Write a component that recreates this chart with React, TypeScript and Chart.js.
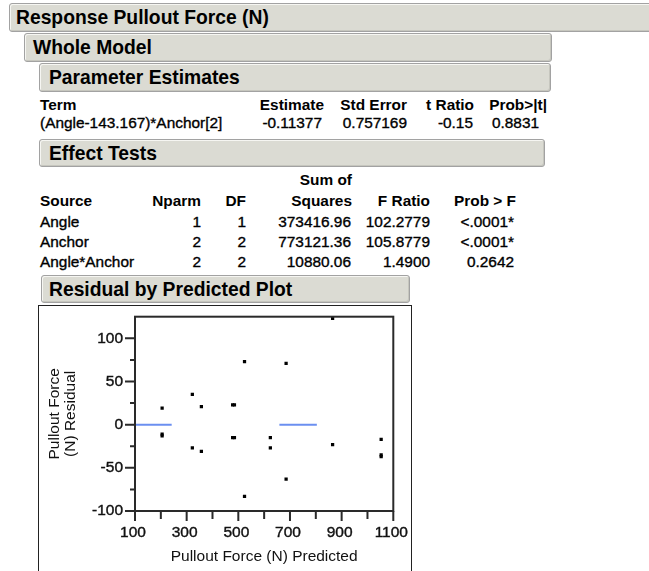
import React, { useEffect, useRef } from 'react';
import { Chart, registerables } from 'chart.js';

Chart.register(...registerables);

const FONT = '"Liberation Sans", Arial, Helvetica, sans-serif';

// ---------- data ----------
const sectionTitles = [
  'Response Pullout Force (N)',
  'Whole Model',
  'Parameter Estimates',
  'Effect Tests',
  'Residual by Predicted Plot',
];

const peColumns = ['Term', 'Estimate', 'Std Error', 't Ratio', 'Prob>|t|'];
const peTerms = ['(Angle-143.167)*Anchor[2]'];
const peEstimate = ['-0.11377'];
const peStdError = ['0.757169'];
const peTRatio = ['-0.15'];
const peProb = ['0.8831'];

const etColumns = ['Source', 'Nparm', 'DF', 'Squares', 'F Ratio', 'Prob > F'];
const etColumnsTop = ['', '', '', 'Sum of', '', ''];
const etSources = ['Angle', 'Anchor', 'Angle*Anchor'];
const etNparm = ['1', '2', '2'];
const etDF = ['1', '2', '2'];
const etSS = ['373416.96', '773121.36', '10880.06'];
const etF = ['102.2779', '105.8779', '1.4900'];
const etProb = ['<.0001*', '<.0001*', '0.2642'];

const predicted = [205, 205, 205, 322, 322, 357, 357, 478, 485, 478, 485, 524, 524, 624, 624, 685, 685, 865, 865, 1053, 1053, 1053];
const residual = [19, -11, -13, 35, -27, 21, -31, 23, 23, -15, -15, 73, -83, -15, -27, 71, -63, 123, -23, -17, -35, -37];

const meanSegA = [100, 242];
const meanSegB = [659, 804];
const meanValue = 0;

const xMin = 100, xMax = 1100, xStep = 100, xLabelStep = 200;
const yMin = -100, yMax = 125, yStep = 25, yLabelStep = 50;
const xTitle = 'Pullout Force (N) Predicted';
const yTitle = ['Pullout Force', '(N) Residual'];

// ---------- helpers ----------
type TxtProps = { x: number; y: number; text: string; align?: 'left' | 'right'; bold?: boolean; size?: number };
function Txt({ x, y, text, align = 'left', bold = false, size = 15.4 }: TxtProps) {
  const style: React.CSSProperties = {
    position: 'absolute',
    top: y - 12,
    height: 24,
    lineHeight: '24px',
    fontFamily: FONT,
    fontSize: size,
    fontWeight: bold ? 'bold' : 'normal',
    whiteSpace: 'pre',
    color: '#000',
    WebkitTextStroke: bold ? '0px' : '0.35px #000',
  };
  if (align === 'left') {
    style.left = x;
  } else {
    style.left = x - 400;
    style.width = 400;
    style.textAlign = 'right';
  }
  return <div style={style}>{text}</div>;
}

type BarProps = { left: number; top: number; width: number; height: number; text: string; pad: number };
function Bar({ left, top, width, height, text, pad }: BarProps) {
  return (
    <div
      style={{
        position: 'absolute',
        left,
        top,
        width,
        height,
        boxSizing: 'border-box',
        background: '#dbdbd3',
        border: '1px solid #a2a2a2',
        borderRadius: 3,
        boxShadow: 'inset 1px 1px 0 #f6f6f2, inset -1px -1px 0 #c6c6be',
        fontFamily: FONT,
        fontWeight: 'bold',
        fontSize: 19.3,
        lineHeight: `${height - 1}px`,
        paddingLeft: pad,
        whiteSpace: 'nowrap',
        color: '#000',
      }}
    >
      {text}
    </div>
  );
}

const framePlugin = {
  id: 'jmpFrame',
  afterDraw(chart: any) {
    const { ctx, chartArea } = chart;
    const xs = chart.scales.x;
    const ys = chart.scales.y;
    ctx.save();
    ctx.strokeStyle = '#2a2a2a';
    ctx.lineWidth = 2;
    ctx.strokeRect(chartArea.left, chartArea.top, chartArea.right - chartArea.left, chartArea.bottom - chartArea.top);
    ctx.beginPath();
    xs.ticks.forEach((t: any) => {
      const px = xs.getPixelForValue(t.value);
      const major = (t.value - xMin) % xLabelStep === 0;
      const len = major ? 10 : 8;
      ctx.moveTo(px, chartArea.bottom);
      ctx.lineTo(px, chartArea.bottom + len);
    });
    ys.ticks.forEach((t: any) => {
      if (t.value >= yMax) return;
      const py = ys.getPixelForValue(t.value);
      const major = t.value % yLabelStep === 0;
      const len = major ? 10 : 5;
      ctx.moveTo(chartArea.left - len, py);
      ctx.lineTo(chartArea.left, py);
    });
    ctx.stroke();
    ctx.restore();
  },
};

function ResidualChart() {
  const ref = useRef<HTMLCanvasElement>(null);
  useEffect(() => {
    const chart = new Chart(ref.current as HTMLCanvasElement, {
      type: 'scatter',
      data: {
        datasets: [
          {
            type: 'scatter',
            data: predicted.map((x, i) => ({ x, y: residual[i] })),
            pointStyle: 'rect',
            pointRadius: 2.3,
            pointBorderWidth: 0,
            pointBackgroundColor: '#000',
            backgroundColor: '#000',
            borderColor: '#000',
            order: 0,
          } as any,
          {
            type: 'line',
            data: meanSegA.map((x) => ({ x, y: meanValue })),
            borderColor: '#6b8ff0',
            borderWidth: 2,
            pointRadius: 0,
            fill: false,
            order: 1,
          } as any,
          {
            type: 'line',
            data: meanSegB.map((x) => ({ x, y: meanValue })),
            borderColor: '#6b8ff0',
            borderWidth: 2,
            pointRadius: 0,
            fill: false,
            order: 1,
          } as any,
        ],
      },
      options: {
        responsive: false,
        animation: false,
        devicePixelRatio: 1,
        layout: { padding: { left: 0, top: 10.7, right: 17.7, bottom: 0 } },
        plugins: { legend: { display: false }, tooltip: { enabled: false } },
        scales: {
          x: {
            type: 'linear',
            min: xMin,
            max: xMax,
            grid: { display: true, drawOnChartArea: false, drawTicks: true, tickLength: 12, tickColor: 'rgba(0,0,0,0)', color: 'rgba(0,0,0,0)' },
            border: { display: false },
            ticks: {
              stepSize: xStep,
              autoSkip: false,
              maxRotation: 0,
              padding: 0,
              labelOffset: -2,
              color: '#111',
              textStrokeColor: '#111',
              textStrokeWidth: 0.4,
              font: { family: FONT, size: 15.5 },
              callback: (v: any) => ((Number(v) - xMin) % xLabelStep === 0 ? String(v) : ''),
            },
            title: {
              display: true,
              text: xTitle,
              color: '#111',
              font: { family: FONT, size: 15.5 },
              padding: { top: 0, bottom: 5 },
            },
            afterFit: (s: any) => {
              s.height = 60;
            },
          } as any,
          y: {
            type: 'linear',
            min: yMin,
            max: yMax,
            grid: { display: true, drawOnChartArea: false, drawTicks: true, tickLength: 12, tickColor: 'rgba(0,0,0,0)', color: 'rgba(0,0,0,0)' },
            border: { display: false },
            ticks: {
              stepSize: yStep,
              autoSkip: false,
              padding: 0,
              color: '#111',
              textStrokeColor: '#111',
              textStrokeWidth: 0.4,
              font: { family: FONT, size: 15.5 },
              callback: (v: any) => (Number(v) % yLabelStep === 0 && Number(v) < yMax ? String(v) : ''),
            },
            title: {
              display: true,
              text: yTitle,
              color: '#111',
              font: { family: FONT, size: 15.5, lineHeight: 0.99 },
              padding: { top: 8.5, bottom: 0 },
            },
            afterFit: (s: any) => {
              s.width = 96;
            },
          } as any,
        },
      },
      plugins: [framePlugin],
    });
    return () => chart.destroy();
  }, []);
  return <canvas ref={ref} width={372} height={265} style={{ display: 'block', width: 372, height: 265 }} />;
}

export default function App() {
  const peRightHead = [324, 407, 474, 547];
  const peRightData = [322, 407, 473, 539];
  const etRightHead = [201, 246, 352, 430, 516];
  const etRightData = [201, 246, 351, 430, 514];
  const etRowY = [222, 242, 262];
  const peCols = [peEstimate, peStdError, peTRatio, peProb];
  const etCols = [etNparm, etDF, etSS, etF, etProb];

  return (
    <div style={{ position: 'absolute', left: 0, top: 0, width: 649, height: 571, overflow: 'hidden', background: '#fff' }}>
      <Bar left={9} top={3} width={700} height={29} text={sectionTitles[0]} pad={6} />
      <Bar left={24} top={33} width={528} height={29} text={sectionTitles[1]} pad={8} />
      <Bar left={39} top={63} width={512} height={29} text={sectionTitles[2]} pad={9} />

      {/* Parameter estimates */}
      <Txt x={40} y={105} text={peColumns[0]} bold />
      {peColumns.slice(1).map((c, i) => (
        <Txt key={'ph' + i} x={peRightHead[i]} y={105} text={c} bold align="right" />
      ))}
      {peTerms.map((t, r) => (
        <React.Fragment key={'pr' + r}>
          <Txt x={40} y={123 + r * 20} text={t} />
          {peCols.map((col, i) => (
            <Txt key={'pc' + i} x={peRightData[i]} y={123 + r * 20} text={col[r]} align="right" />
          ))}
        </React.Fragment>
      ))}

      <Bar left={39} top={139} width={506} height={28} text={sectionTitles[3]} pad={9} />

      {/* Effect tests */}
      <Txt x={etRightHead[2]} y={180} text={etColumnsTop[3]} bold align="right" />
      <Txt x={40} y={201} text={etColumns[0]} bold />
      {etColumns.slice(1).map((c, i) => (
        <Txt key={'eh' + i} x={etRightHead[i]} y={201} text={c} bold align="right" />
      ))}
      {etSources.map((s, r) => (
        <React.Fragment key={'er' + r}>
          <Txt x={40} y={etRowY[r]} text={s} />
          {etCols.map((col, i) => (
            <Txt key={'ec' + i} x={etRightData[i]} y={etRowY[r]} text={col[r]} align="right" />
          ))}
        </React.Fragment>
      ))}

      <Bar left={41} top={275} width={369} height={28} text={sectionTitles[4]} pad={7} />

      {/* plot frame */}
      <div
        style={{
          position: 'absolute',
          left: 38,
          top: 305,
          width: 374,
          height: 300,
          boxSizing: 'border-box',
          border: '1px solid #222',
        }}
      />
      <div style={{ position: 'absolute', left: 39, top: 306, width: 372, height: 265 }}>
        <ResidualChart />
      </div>
    </div>
  );
}
